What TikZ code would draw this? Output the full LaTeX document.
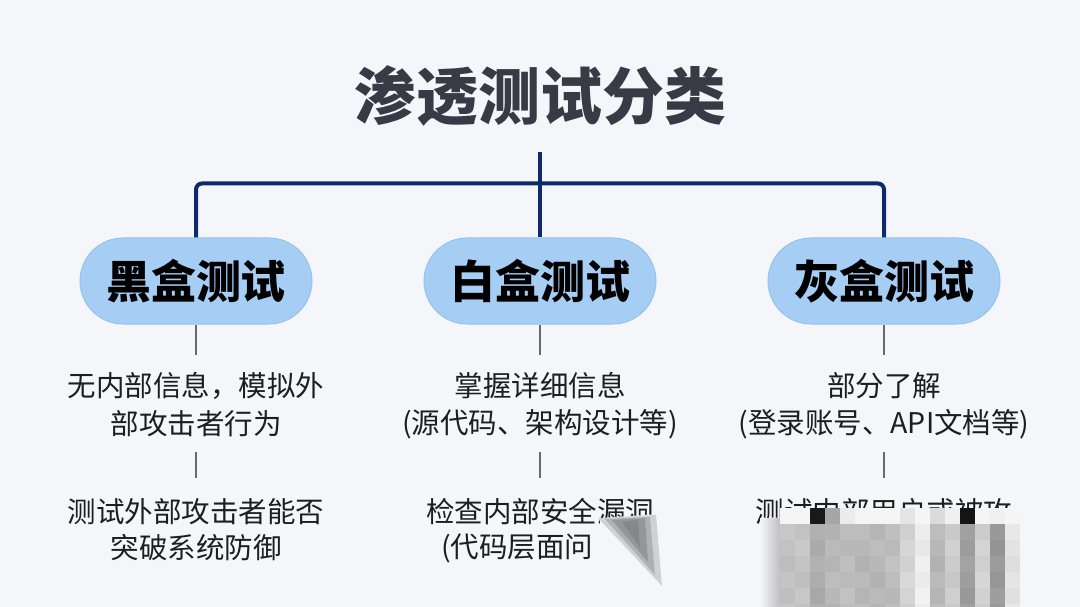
\documentclass[tikz,border=0pt]{standalone}
\usepackage{fontspec}
\setmainfont{Noto Sans CJK SC}
\newfontfamily\heavyfont{Noto Sans CJK SC Black}
\usetikzlibrary{shapes.misc}
\definecolor{bg}{HTML}{F4F6F9}
\definecolor{navy}{HTML}{0E2A6A}
\definecolor{titlec}{HTML}{363B45}
\definecolor{pillc}{HTML}{A6CEF5}
\definecolor{pilledge}{HTML}{96C3EE}
\definecolor{stemc}{HTML}{6A6A6A}
\definecolor{txt}{HTML}{1E1E1E}
\tikzset{
  titlebox/.style={text=titlec, font=\fontsize{62}{62}\selectfont\heavyfont, inner sep=0},
  pill/.style={rounded rectangle, fill=pillc, draw=pilledge, line width=1pt,
    minimum width=232pt, minimum height=86pt, inner sep=0,
    text=black, font=\fontsize{45}{45}\selectfont\heavyfont},
  desc/.style={text=txt, font=\fontsize{28.5}{28.5}\selectfont, inner sep=0},
  trunk/.style={draw=navy, line width=4pt},
  stem/.style={draw=stemc, line width=2.5pt},
}
\begin{document}
\begin{tikzpicture}[x=1pt,y=-1pt]
\path[fill=bg] (0,0) rectangle (1080,607);
\useasboundingbox (0,0) rectangle (1080,607);

\node[titlebox] (title) at (540,96) {渗透测试分类};

\node[pill] (black) at (196,281) {黑盒测试};
\node[pill] (white) at (540,281) {白盒测试};
\node[pill] (gray)  at (884,281) {灰盒测试};

\coordinate (top) at (540,152);
\coordinate (bar) at (540,183.5);
\draw[trunk] (top) -- (white.north);
\draw[trunk, rounded corners=6pt] (black.north) |- (bar) -| (gray.north);

% descriptions
\node[desc] (b1a) at (196,386) {无内部信息，模拟外};
\node[desc] (b1b) at (196,424) {部攻击者行为};
\node[desc] (b2a) at (196,512) {测试外部攻击者能否};
\node[desc] (b2b) at (196,548) {突破系统防御};

\node[desc] (w1a) at (540,386) {掌握详细信息};
\node[desc] (w1b) at (540,424) {(源代码、架构设计等)};
\node[desc] (w2a) at (540,512) {检查内部安全漏洞};
\node[desc, anchor=west] (w2b) at (441,548) {(代码层面问};

\node[desc] (g1a) at (884,386) {部分了解};
\node[desc] (g1b) at (884,424) {(登录账号、API文档等)};
\node[desc] (g2a) at (884,512) {测试内部用户或被攻};

% stems
\foreach \n/\x in {black/196, white/540, gray/884}{
  \coordinate (\n s) at (\x,355);
  \draw[stem] (\n.south) -- (\n s);
  \coordinate (\n t) at (\x,452);
  \coordinate (\n u) at (\x,478);
  \draw[stem] (\n t) -- (\n u);
}

% smear over middle bottom text
\fill[bg] (600,518) -- (660,514) -- (662,590) -- (600,560) -- cycle;
\fill[gray!80!black, opacity=0.25] (598,518) -- (656,515) -- (662,586) -- cycle;
\fill[gray!80!black, opacity=0.3] (605,519) -- (650,517) -- (655,575) -- cycle;
\fill[gray!80!black, opacity=0.35] (612,520) -- (645,518) -- (648,562) -- cycle;
\fill[gray!80!black, opacity=0.3] (622,522) -- (638,520) -- (640,548) -- cycle;

% mosaic over right bottom text
\fill[left color=bg, right color=gray!50] (760,518) rectangle (780,607);
\def\toprow{{4,4,90,35,8,4,4,4,10,4,14,6,92,4,6,4}}
\def\base{{24,23,32,28,26,28,28,26,17,7,28,20,38,18,40,11}}
\foreach \c in {0,...,15}{
  \pgfmathsetmacro{\tv}{\toprow[\c]}
  \fill[black!\tv] (780+15*\c,508) rectangle (795+15*\c,524);
  \foreach \r in {0,...,5}{
    \pgfmathsetmacro{\v}{\base[\c]+mod(\r*7+\c*3,5)-2}
    \fill[black!\v] (780+15*\c,524+16*\r) rectangle (795+15*\c,540+16*\r);
  }
}
\end{tikzpicture}
\end{document}
